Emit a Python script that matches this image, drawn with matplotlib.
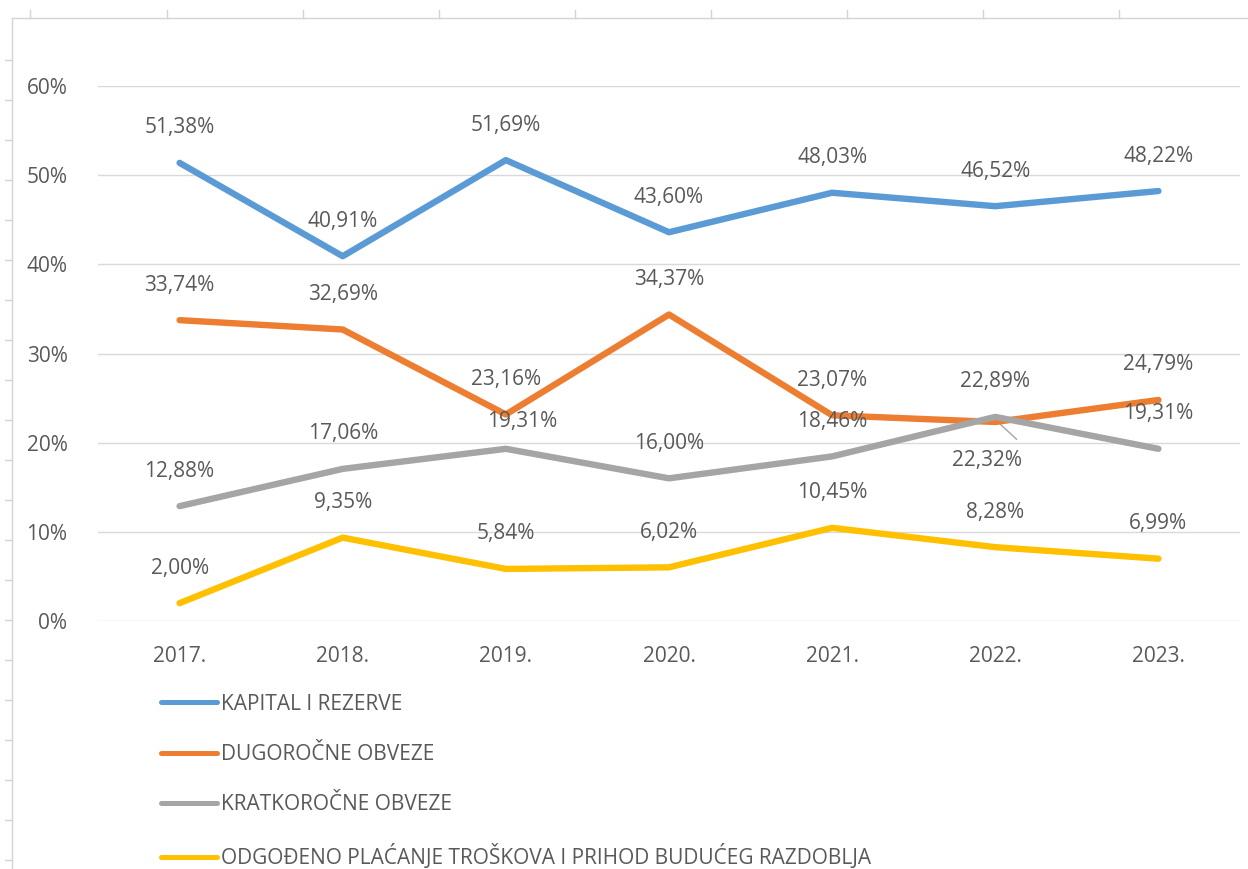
import matplotlib.pyplot as plt
from matplotlib.lines import Line2D
from matplotlib.ticker import PercentFormatter

# data
years = ['2017.', '2018.', '2019.', '2020.', '2021.', '2022.', '2023.']
kapital = [51.38, 40.91, 51.69, 43.60, 48.03, 46.52, 48.22]
dugorocne = [33.74, 32.69, 23.16, 34.37, 23.07, 22.32, 24.79]
kratkorocne = [12.88, 17.06, 19.31, 16.00, 18.46, 22.89, 19.31]
odgodeno = [2.00, 9.35, 5.84, 6.02, 10.45, 8.28, 6.99]

names = ['KAPITAL I REZERVE', 'DUGOROČNE OBVEZE', 'KRATKOROČNE OBVEZE',
         'ODGOĐENO PLAĆANJE TROŠKOVA I PRIHOD BUDUĆEG RAZDOBLJA']
colors = ['#5B9BD5', '#ED7D31', '#A5A5A5', '#FFC000']
series = [kapital, dugorocne, kratkorocne, odgodeno]

txt = '#595959'
plt.rcParams['font.family'] = ['Open Sans', 'DejaVu Sans']

W, H = 1248, 869
fig = plt.figure(figsize=(W / 100, H / 100), dpi=100)
ax = fig.add_axes([98 / W, 1 - 621 / H, (1240 - 98) / W, (621 - 86) / H])

x = list(range(len(years)))
for vals, c, n in zip(series, colors, names):
    ax.plot(x, vals, color=c, lw=4.6, solid_capstyle='round', label=n, zorder=3)

# data labels (mostly above the point)
off = {}
off[(2, 2)] = (16, 27)   # 19,31% in 2019 shifted right
for si, vals in enumerate(series):
    for i, v in enumerate(vals):
        if si == 1 and i == 5:
            continue
        dx, dy = off.get((si, i), (0, 35))
        ax.annotate(f'{v:.2f}%'.replace('.', ','), (i, v), xytext=(dx, dy),
                    textcoords='offset pixels', ha='center', va='center',
                    fontsize=15, color=txt, zorder=4)

# 22,32% placed below with a leader line
ax.annotate(f'{dugorocne[5]:.2f}%'.replace('.', ','), (5, dugorocne[5]),
            xytext=(-8, -39), textcoords='offset pixels', ha='center', va='center',
            fontsize=15, color=txt, zorder=4)
ax.plot([5, 5.13], [kratkorocne[5] - 0.3, kratkorocne[5] - 2.5], color='#A5A5A5', lw=1, zorder=2)

ax.set_xlim(-0.5, 6.5)
ax.set_ylim(0, 60)
ax.set_yticks(range(0, 61, 10))
ax.yaxis.set_major_formatter(PercentFormatter(decimals=0))
ax.set_xticks(x)
ax.set_xticklabels(years)
ax.grid(axis='y', color='#D9D9D9', lw=1)
ax.set_axisbelow(True)
for s in ax.spines.values():
    s.set_visible(False)
ax.tick_params(length=0, colors=txt, labelsize=15)
ax.tick_params(axis='y', pad=22)
ax.tick_params(axis='x', pad=18)

leg = fig.legend(loc='upper left', bbox_to_anchor=(142 / W, 1 - 675 / H), frameon=False,
                 fontsize=15, handlelength=2.7, handletextpad=0.2, labelspacing=1.4,
                 labelcolor=txt)
for h in leg.legend_handles:
    h.set_linewidth(3.6)

# spreadsheet chart frame and cell marks
grey = '#D4D4D4'
fig.add_artist(Line2D([12 / W, 12 / W], [0, 1 - 18 / H], color=grey, lw=1))
fig.add_artist(Line2D([12 / W, 1], [1 - 18 / H, 1 - 18 / H], color=grey, lw=1))
for cx in [30, 167, 303, 439, 575, 711, 847, 983, 1119]:
    fig.add_artist(Line2D([cx / W, cx / W], [1 - 10 / H, 1 - 18 / H], color=grey, lw=1))
for ry in range(60, 869, 40):
    fig.add_artist(Line2D([5 / W, 12 / W], [1 - ry / H, 1 - ry / H], color=grey, lw=1))

fig.savefig('out.png', dpi=100)
